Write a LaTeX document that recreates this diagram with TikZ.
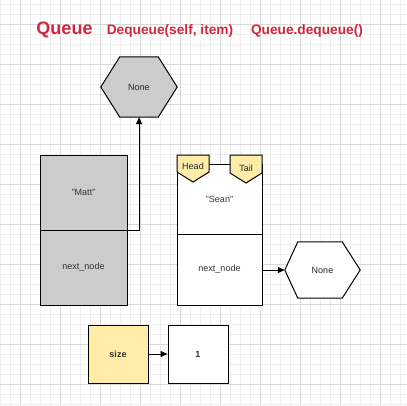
\documentclass[tikz,border=0pt]{standalone}
\usepackage{fontspec}
\setmainfont{Liberation Sans}
\usetikzlibrary{arrows.meta}

\definecolor{titlered}{RGB}{208,40,58}
\definecolor{cellgray}{RGB}{204,204,204}
\definecolor{tagyellow}{RGB}{255,236,168}
\definecolor{gridminor}{RGB}{238,238,238}
\definecolor{gridmajor}{RGB}{216,216,216}

\begin{document}
\begin{tikzpicture}[x=1pt, y=-1pt,
  titletext/.style={text=titlered, font=\bfseries\fontsize{13.7}{16}\selectfont, inner sep=0, anchor=base},
  cellbox/.style={draw, line width=1pt, minimum width=87pt, minimum height=75pt, inner sep=0, text=black!80, font=\fontsize{9}{11}\selectfont},
  hexbox/.style={minimum width=76pt, minimum height=60pt, inner sep=0, text=black!85, font=\fontsize{9}{11}\selectfont},
  tagtext/.style={inner sep=0, text=black!85, font=\fontsize{9}{11}\selectfont},
  outline/.style={line width=1pt, line join=miter},
  arr/.style={line width=1pt, -{Triangle[length=7pt,width=6pt]}}]
  \useasboundingbox (0,0) rectangle (407,405);
  \fill[white] (0,0) rectangle (407,405);
  % draw background grid
  \foreach \x in {0,10,...,400} \draw[gridminor, line width=0.8pt] (\x,0) -- (\x,405);
  \foreach \y in {4.5,14.5,...,404.5} \draw[gridminor, line width=0.8pt] (0,\y) -- (407,\y);
  \foreach \x in {20,60,...,380} \draw[gridmajor, line width=0.8pt] (\x,0) -- (\x,405);
  \foreach \y in {24.5,64.5,...,384.5} \draw[gridmajor, line width=0.8pt] (0,\y) -- (407,\y);

  % draw titles
  \node[titletext, font=\bfseries\fontsize{18}{20}\selectfont] (qtitle) at (64.5,34.5) {Queue};
  \node[titletext] (deqtitle) at (170,34.5) {Dequeue(self, item)};
  \node[titletext] (calltitle) at (307,34.5) {Queue.dequeue()};

  % draw old head node (gray)
  \node[cellbox, fill=cellgray] (matt) at (83.5,192.5) {"Matt"};
  \node[cellbox, fill=cellgray] (mattnext) at (83.5,267.5) {next\_node};

  % draw hexagon None above
  \node[hexbox] (nonetop) at (139,87) {};
  \draw[outline, fill=cellgray] (nonetop.west) -- ([xshift=19pt]nonetop.north west) -- ([xshift=-19pt]nonetop.north east)
    -- (nonetop.east) -- ([xshift=-19pt]nonetop.south east) -- ([xshift=19pt]nonetop.south west) -- cycle;
  \node[hexbox] at (nonetop) {None};
  \draw[arr] (matt.south east) -| (nonetop.south);

  % draw remaining node with head and tail tags
  \node[cellbox, fill=white, minimum width=85pt, minimum height=70pt] (sean) at (219.5,199) {"Sean"};
  \node[cellbox, fill=white, minimum width=85pt, minimum height=71pt] (seannext) at (219.5,269.5) {next\_node};
  \draw[outline, fill=tagyellow] (177,155) -- (209,155) -- (209,172) -- (193,182) -- (177,172) -- cycle;
  \draw[outline, fill=tagyellow] (230,155) -- (262,155) -- (262,173) -- (246,183) -- (230,173) -- cycle;
  \node[tagtext] (headtag) at (193,166.5) {Head};
  \node[tagtext] (tailtag) at (246,168) {Tail};

  % draw hexagon None on the right
  \node[hexbox, minimum width=75pt, minimum height=56pt] (noneright) at (322.5,270) {};
  \draw[outline, fill=white] (noneright.west) -- ([xshift=13pt]noneright.north west) -- ([xshift=-18pt]noneright.north east)
    -- (noneright.east) -- ([xshift=-18pt]noneright.south east) -- ([xshift=13pt]noneright.south west) -- cycle;
  \node[hexbox, minimum width=75pt, minimum height=56pt] at (noneright) {None};
  \draw[arr] (seannext.east |- noneright.west) -- (noneright.west);

  % draw size counter
  \node[cellbox, fill=tagyellow, minimum width=60pt, minimum height=58pt, font=\bfseries\fontsize{9}{11}\selectfont] (size) at (118,354) {size};
  \node[cellbox, fill=white, minimum width=60pt, minimum height=58pt, font=\bfseries\fontsize{9}{11}\selectfont] (count) at (198,354) {1};
  \draw[arr] (size) -- (count);
\end{tikzpicture}
\end{document}
